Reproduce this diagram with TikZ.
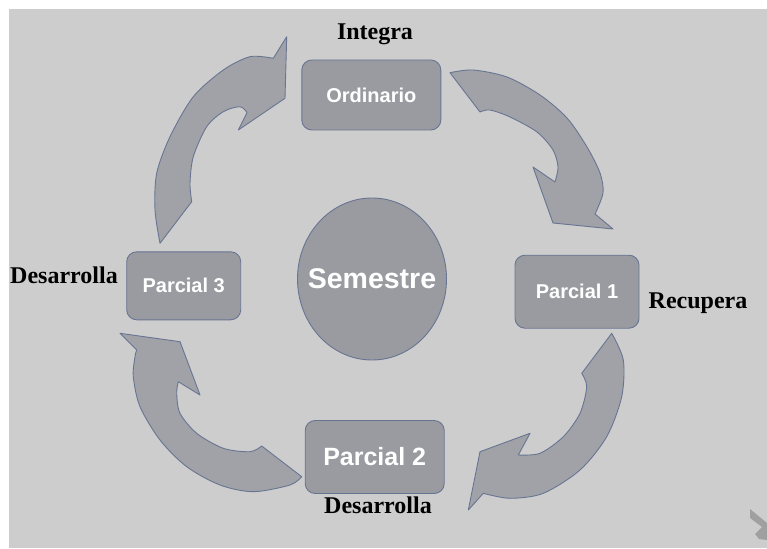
\documentclass[tikz,border=0pt]{standalone}
\usepackage{fontspec}
\newfontfamily\boxfont{Liberation Sans}
\newfontfamily\capfont{Liberation Serif}
\definecolor{pagegray}{RGB}{205,205,205}
\definecolor{boxgray}{RGB}{154,155,160}
\definecolor{arrowgray}{RGB}{161,162,167}
\definecolor{edgeblue}{RGB}{104,117,146}
\definecolor{chevgray}{RGB}{160,160,160}
\tikzset{
  stagebox/.style={draw=edgeblue, line width=0.9pt, fill=boxgray, rounded corners=10pt,
    text=white, font=\boxfont\bfseries\fontsize{20}{24}\selectfont, inner sep=0pt},
  cyclearrow/.style={draw=edgeblue, line width=0.9pt, fill=arrowgray, line join=round},
  caption/.style={font=\capfont\bfseries\fontsize{24}{28}\selectfont, text=black, anchor=base, inner sep=0pt}
}
\begin{document}
\begin{tikzpicture}[x=1pt,y=-1pt]
\useasboundingbox (0,0) rectangle (767,548);
% page background with white margin on the left and top
\fill[white] (0,0) rectangle (767,548);
\fill[pagegray] (9,9) rectangle (767,548);

% clockwise block arrows
\path[cyclearrow] plot[smooth] coordinates {(450,72.7) (473,70) (507,77) (540,95) (567,118) (587,147) (600,173) (603,193) (595,214)}
  -- (613,229) -- (553,223) -- (533,167) -- (555,182)
  -- plot[smooth] coordinates {(555,182) (558,167) (553,150) (537,132) (510,117) (490,110) (480,112)} -- cycle;
\path[cyclearrow] plot[smooth] coordinates {(611.7,333.3) (623.3,360) (621.7,396.7) (606.7,436.7) (580,470) (543.3,493.3) (510,498.3) (483.3,493.3)}
  -- (468.3,510) -- (480,451.7) -- (530,433.3) -- (518.3,455)
  -- plot[smooth] coordinates {(518.3,455) (540,453.3) (563.3,436.7) (580,413.3) (586.7,386.7) (581.7,373.3)} -- cycle;
\path[cyclearrow] plot[smooth] coordinates {(301.7,476.7) (290,485) (253.3,491.7) (220,485) (186.7,466.7) (160,440) (140,406.7) (133.3,376.7) (135,356.7) (136.7,350)}
  -- (120,333.3) -- (180,341.7) -- (200,395) -- (178.3,381.7)
  -- plot[smooth] coordinates {(178.3,381.7) (176.7,393.3) (180,413.3) (196.7,433.3) (223.3,448.3) (250,451.7) (261.7,446)} -- cycle;
\path[cyclearrow] plot[smooth] coordinates {(160,243.3) (155,210) (156.7,173.3) (170,136.7) (193.3,96.7) (223.3,70) (250,56.7) (273.3,58.3)}
  -- (286.7,36.7) -- (285,98.3) -- (238.3,130) -- (247,112.5)
  -- plot[smooth] coordinates {(247,112.5) (240,106.7) (223.3,111.7) (206.7,126.7) (193.3,156.7) (190,183.3) (191.7,201.7)} -- cycle;

% centre
\path[draw=edgeblue, line width=0.9pt, fill=boxgray] (372,279) ellipse [x radius=74.5pt, y radius=81pt];
\node[text=white, font=\boxfont\bfseries\fontsize{28.5}{32}\selectfont, inner sep=0pt] (sem) at (372,279) {Semestre};

% stages
\node[stagebox, minimum width=139pt, minimum height=70pt] (ord) at (371.3,95) {Ordinario};
\node[stagebox, minimum width=124pt, minimum height=73pt] (p1) at (577,291.7) {Parcial 1};
\node[stagebox, minimum width=139pt, minimum height=73pt, font=\boxfont\bfseries\fontsize{25}{29}\selectfont] (p2) at (374.7,457) {Parcial 2};
\node[stagebox, minimum width=114pt, minimum height=68pt] (p3) at (183.7,285.8) {Parcial 3};

% captions
\node[caption] (cint) at (375,39.3) {Integra};
\node[caption] (crec) at (698,308) {Recupera};
\node[caption] (cdes2) at (378,513) {Desarrolla};
\node[caption] (cdes3) at (64,283) {Desarrolla};

% corner chevron
\fill[chevgray] (750,509) -- (767,523) -- (767,540) -- (759,539) -- (755,534) -- (762,527) -- (750,518) -- cycle;
\end{tikzpicture}
\end{document}
